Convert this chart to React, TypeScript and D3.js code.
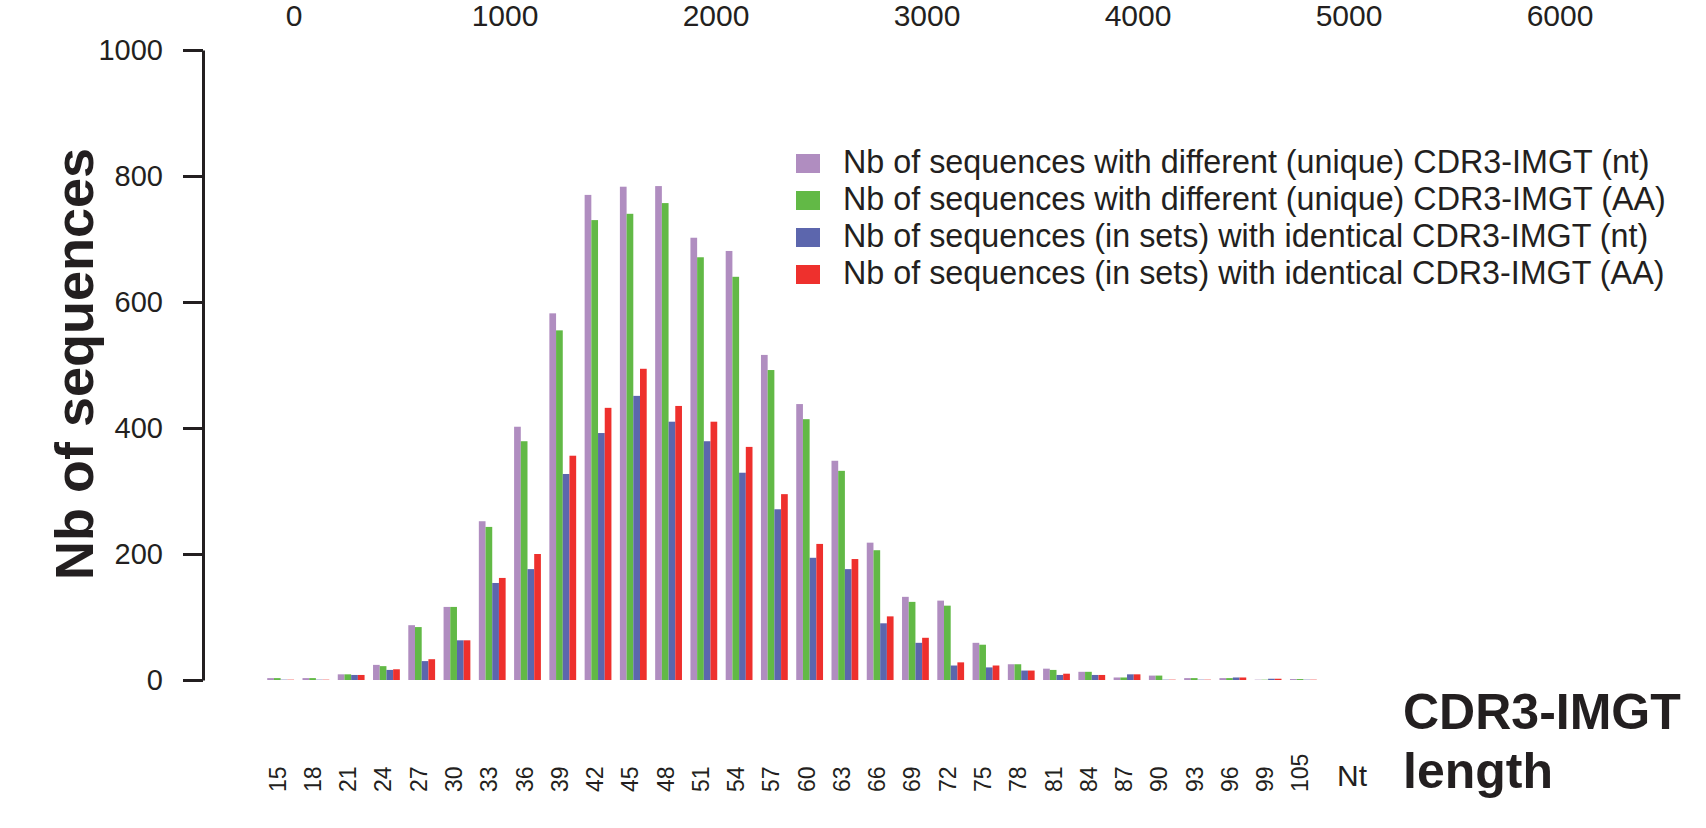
import React, { useEffect, useRef } from 'react';
import * as d3 from 'd3';

// CDR3-IMGT length (Nt) categories
const categories = ['15', '18', '21', '24', '27', '30', '33', '36', '39', '42', '45', '48', '51', '54', '57',
  '60', '63', '66', '69', '72', '75', '78', '81', '84', '87', '90', '93', '96', '99', '105'];

// series values
const uniqueNt = [3, 3, 9, 24, 87, 116, 252, 402, 582, 770, 783, 784, 702, 681, 516,
  438, 348, 218, 132, 126, 59, 25, 18, 13, 4, 7, 3, 3, 0.5, 1.5];
const uniqueAA = [3, 3, 9, 22, 84, 116, 243, 379, 555, 730, 740, 757, 671, 640, 492,
  414, 332, 206, 124, 118, 56, 25, 16, 13, 4, 7, 3, 3, 0.5, 1.5];
const identicalNt = [0.5, 0.5, 8, 16, 30, 63, 154, 176, 327, 392, 451, 410, 379, 329, 271,
  194, 176, 90, 59, 23, 20, 15, 8, 8, 9, 0.5, 0.5, 4, 2, 0.5];
const identicalAA = [0.5, 0.5, 8, 17, 33, 63, 162, 200, 356, 432, 494, 435, 410, 370, 295,
  216, 192, 101, 67, 28, 23, 15, 10, 8, 9, 0.5, 0.5, 4, 2, 0.5];

const seriesNames = [
  'Nb of sequences with different (unique) CDR3-IMGT (nt)',
  'Nb of sequences with different (unique) CDR3-IMGT (AA)',
  'Nb of sequences (in sets) with identical CDR3-IMGT (nt)',
  'Nb of sequences (in sets) with identical CDR3-IMGT (AA)',
];
const seriesColors = ['#b08dc0', '#62b946', '#5c66ad', '#ee302d'];

const yTicks = [0, 200, 400, 600, 800, 1000];
const topTicks = [0, 1000, 2000, 3000, 4000, 5000, 6000];

const ink = '#231f20';
const font = 'Liberation Sans, Arial, sans-serif';

export default function App() {
  const ref = useRef<SVGSVGElement>(null);

  useEffect(() => {
    const svg = d3.select(ref.current);
    svg.selectAll('*').remove();

    const allSeries = [uniqueNt, uniqueAA, identicalNt, identicalAA];

    // scales
    const x = d3.scaleBand().domain(categories).range([263, 1321]).paddingInner(0.24).paddingOuter(0.12);
    const inner = d3.scaleBand<number>().domain([0, 1, 2, 3]).range([0, x.bandwidth()]);
    const y = d3.scaleLinear().domain([0, 1000]).range([680, 50]);
    const top = d3.scaleLinear().domain([0, 6000]).range([294, 1560]);

    // bars, one group per length
    const groups = svg.append('g').selectAll('g')
      .data(categories)
      .enter().append('g')
      .attr('transform', d => 'translate(' + x(d) + ',0)');

    groups.selectAll('rect')
      .data((d, i) => allSeries.map((s, k) => ({ k, v: s[i] })))
      .enter().append('rect')
      .attr('x', d => inner(d.k) as number)
      .attr('width', inner.bandwidth())
      .attr('y', d => y(d.v))
      .attr('height', d => y(0) - y(d.v))
      .attr('fill', d => seriesColors[d.k]);

    // left axis
    const axis = svg.append('g')
      .attr('transform', 'translate(203,0)')
      .call(d3.axisLeft(y).tickValues(yTicks).tickFormat(d3.format('d')).tickSize(20).tickPadding(20).tickSizeOuter(0));
    axis.select('.domain').attr('stroke', ink).attr('stroke-width', 3);
    axis.selectAll('.tick line').attr('stroke', ink).attr('stroke-width', 3);
    axis.selectAll('.tick text')
      .attr('fill', ink)
      .attr('font-family', font)
      .attr('font-size', 29);

    // top labels (no line)
    svg.append('g').selectAll('text')
      .data(topTicks)
      .enter().append('text')
      .attr('x', d => top(d))
      .attr('y', 26)
      .attr('text-anchor', 'middle')
      .attr('font-family', font)
      .attr('font-size', 30)
      .attr('fill', ink)
      .text(d => d);

    // x category labels, rotated
    svg.append('g').selectAll('text')
      .data(categories)
      .enter().append('text')
      .attr('transform', d => 'translate(' + ((x(d) as number) + x.bandwidth() / 2 - 3) + ',792) rotate(-90)')
      .attr('dominant-baseline', 'central')
      .attr('font-family', font)
      .attr('font-size', 23)
      .attr('fill', ink)
      .text(d => d);

    svg.append('text')
      .attr('x', 1337).attr('y', 786)
      .attr('font-family', font)
      .attr('font-size', 30)
      .attr('fill', ink)
      .text('Nt');

    // axis titles
    svg.append('text')
      .attr('transform', 'translate(93,364) rotate(-90)')
      .attr('text-anchor', 'middle')
      .attr('font-family', font)
      .attr('font-weight', 'bold')
      .attr('font-size', 54)
      .attr('fill', ink)
      .text('Nb of sequences');

    svg.append('text')
      .attr('x', 1403).attr('y', 729)
      .attr('font-family', font)
      .attr('font-weight', 'bold')
      .attr('font-size', 50)
      .attr('fill', ink)
      .text('CDR3-IMGT');
    svg.append('text')
      .attr('x', 1403).attr('y', 788)
      .attr('font-family', font)
      .attr('font-weight', 'bold')
      .attr('font-size', 50)
      .attr('fill', ink)
      .text('length');

    // legend
    const legend = svg.append('g').selectAll('g')
      .data(seriesNames)
      .enter().append('g')
      .attr('transform', (d, i) => 'translate(796,' + (173 + i * 37) + ')');
    legend.append('rect')
      .attr('x', 0).attr('y', -19)
      .attr('width', 24).attr('height', 19)
      .attr('fill', (d, i) => seriesColors[i]);
    legend.append('text')
      .attr('x', 47).attr('y', 0)
      .attr('font-family', font)
      .attr('font-size', 32.3)
      .attr('fill', ink)
      .text(d => d);
  }, []);

  return (
    <div style={{ position: 'absolute', left: 0, top: 0 }}>
      <svg ref={ref} width={1706} height={828} style={{ display: 'block', background: '#fff' }} />
    </div>
  );
}
